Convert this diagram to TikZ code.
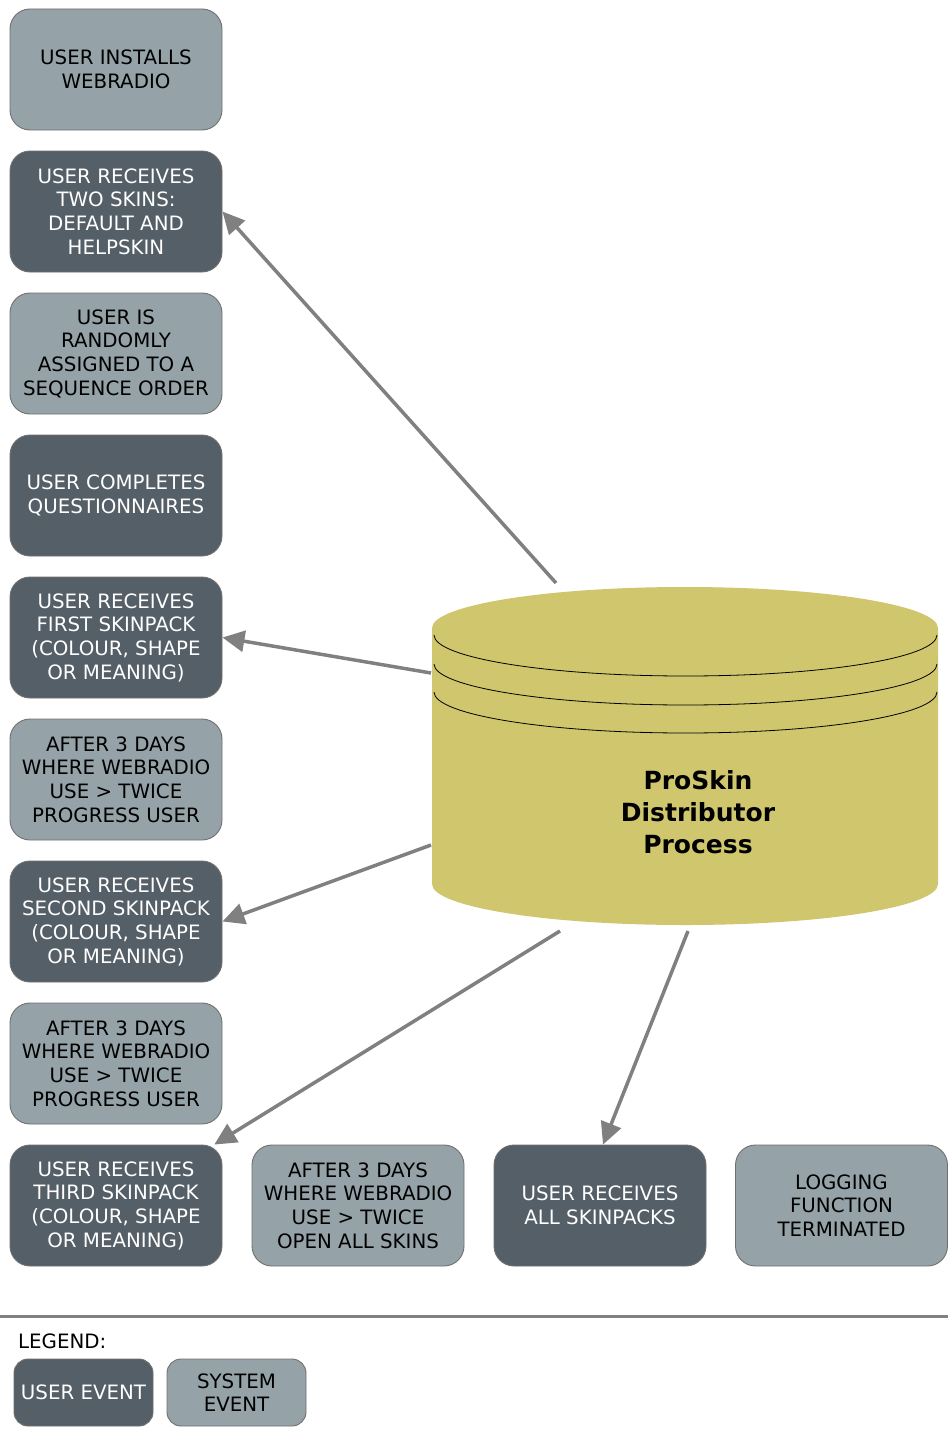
\documentclass[tikz,border=0pt]{standalone}
\usepackage{fontspec}
\setmainfont{DejaVu Sans}
\usetikzlibrary{arrows.meta,calc}
\definecolor{sysfill}{HTML}{95A3A8}
\definecolor{userfill}{HTML}{555F67}
\definecolor{boxline}{HTML}{707070}
\definecolor{drum}{HTML}{CFC66E}
\definecolor{arrowgray}{HTML}{808080}
\begin{document}
\begin{tikzpicture}[x=1pt,y=-1pt,
  evbox/.style={draw=boxline,line width=0.9pt,rounded corners=20pt,
    minimum width=212pt,minimum height=121pt,align=center,inner sep=0pt,
    font=\fontsize{19.8}{23.7}\selectfont},
  sysev/.style={evbox,fill=sysfill,text=black},
  userev/.style={evbox,fill=userfill,text=white},
  legbox/.style={evbox,minimum width=139pt,minimum height=67pt,rounded corners=14pt},
  flow/.style={draw=arrowgray,line width=3.5pt,-{Triangle[length=22pt,width=21pt]}}
]
\fill[white] (0,0) rectangle (948,1437);
\useasboundingbox (0,0) rectangle (948,1437);

% left column of events
\node[sysev]  (b1) at (116,69.5)  {USER INSTALLS\\WEBRADIO};
\node[userev] (b2) at (116,211.5) {USER RECEIVES\\TWO SKINS:\\DEFAULT AND\\HELPSKIN};
\node[sysev]  (b3) at (116,353.5) {USER IS\\RANDOMLY\\ASSIGNED TO A\\SEQUENCE ORDER};
\node[userev] (b4) at (116,495.5) {USER COMPLETES\\QUESTIONNAIRES};
\node[userev] (b5) at (116,637.5) {USER RECEIVES\\FIRST SKINPACK\\(COLOUR, SHAPE\\OR MEANING)};
\node[sysev]  (b6) at (116,779.5) {AFTER 3 DAYS\\WHERE WEBRADIO\\USE > TWICE\\PROGRESS USER};
\node[userev] (b7) at (116,921.5) {USER RECEIVES\\SECOND SKINPACK\\(COLOUR, SHAPE\\OR MEANING)};
\node[sysev]  (b8) at (116,1063.5) {AFTER 3 DAYS\\WHERE WEBRADIO\\USE > TWICE\\PROGRESS USER};
% bottom row of events
\node[userev] (b9)  at (116,1205.5) {USER RECEIVES\\THIRD SKINPACK\\(COLOUR, SHAPE\\OR MEANING)};
\node[sysev]  (b10) at (358,1205.5) {AFTER 3 DAYS\\WHERE WEBRADIO\\USE > TWICE\\OPEN ALL SKINS};
\node[userev] (b11) at (600,1205.5) {USER RECEIVES\\ALL SKINPACKS};
\node[sysev]  (b12) at (841.5,1205.5) {LOGGING\\FUNCTION\\TERMINATED};

% distributor drum
\fill[drum] (432,628) -- (432,884) arc[start angle=180,end angle=360,x radius=253,y radius=-41]
  -- (938,628) arc[start angle=0,end angle=180,x radius=253,y radius=-41] -- cycle;
\foreach \yy in {635,664,692}
  \draw[black,line width=0.8pt] (434,\yy) arc[start angle=180,end angle=360,x radius=251.5,y radius=-41];
\node[font=\fontsize{25}{32}\selectfont\bfseries,align=center] (drum) at (698,812)
  {ProSkin\\Distributor\\Process};

% arrow tails on the drum
\coordinate (t1) at (556,583);
\coordinate (t2) at (431,673);
\coordinate (t3) at (431,845);
\coordinate (t4) at (560,931);
\coordinate (t5) at (688,931);

\draw[flow] (t1) -- (b2.east);
\draw[flow] (t2) -- (b5.east);
\draw[flow] (t3) -- (b7.east);
\draw[flow] (t4) -- (b9);
\draw[flow] (t5) -- ($(b11.north)+(3,0)$);

% legend
\coordinate (sepL) at (0,1316);
\coordinate (sepR) at (948,1316);
\draw[arrowgray,line width=3pt] (sepL) -- (sepR);
\node[anchor=west,font=\fontsize{19.8}{23.7}\selectfont,inner sep=0pt] (leg) at (18,1341) {LEGEND:};
\node[userev,legbox] (lu) at (83.5,1392.5) {USER EVENT};
\node[sysev,legbox]  (ls) at (236.5,1392.5) {SYSTEM\\EVENT};
\end{tikzpicture}
\end{document}
